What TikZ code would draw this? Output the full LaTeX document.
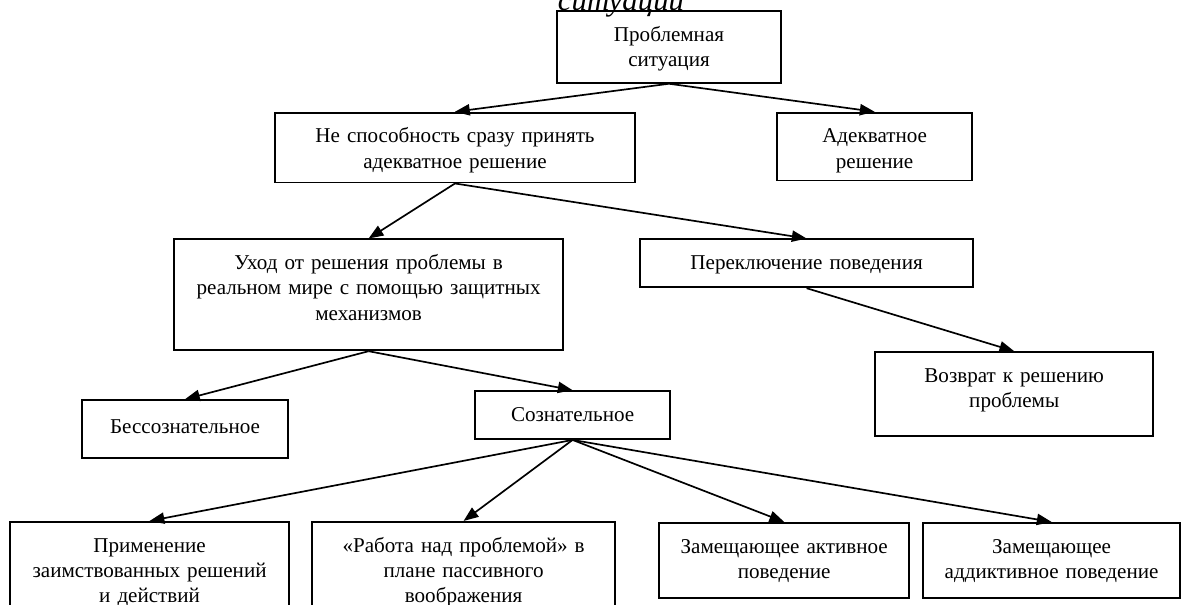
\documentclass[tikz,border=0pt]{standalone}
\usepackage{fontspec}
\setmainfont{Liberation Serif}
\usetikzlibrary{arrows.meta, positioning}

\begin{document}
\begin{tikzpicture}[
        % Стиль блоков схемы
        stagebox/.style={
                rectangle,
                draw=black,
                line width=1.3pt,
                inner sep=0pt,
                align=center,
                text height=21.5pt,
                font=\fontsize{15}{18}\selectfont
            },
        % Стрелки
        link/.style={
                -{Triangle[length=10.5pt,width=8pt]},
                line width=1.2pt
            }
    ]

    \useasboundingbox (0,0) rectangle (29.525,-15.125);

    % Обрезанная надпись сверху
    \node[anchor=base, font=\fontsize{22}{26}\selectfont\itshape] (cut) at (15.525,-0.25) {ситуации};

    % Верхний уровень
    \node[stagebox, anchor=north, text width=5.6cm, text depth=1.042cm] (prob) at (16.725,-0.25) {Проблемная\\ситуация};

    \node[stagebox, below=0.7cm of prob, xshift=-5.35cm, text width=9cm, text depth=0.992cm] (nesp) {
        Не способность сразу принять\\
        адекватное решение
    };

    \node[stagebox, below=0.7cm of prob, xshift=5.14cm, text width=4.875cm, text depth=0.942cm] (adekv) {
        Адекватное\\
        решение
    };

    % Второй уровень
    \node[stagebox, below=1.375cm of nesp, xshift=-2.16cm, text width=9.725cm, text depth=2.017cm] (uhod) {
        Уход от решения проблемы в\\
        реальном мире с помощью защитных\\
        механизмов
    };

    \node[stagebox, below=1.375cm of nesp, xshift=8.79cm, text width=8.325cm, text depth=0.442cm] (perekl) {
        Переключение поведения
    };

    \node[stagebox, below=1.575cm of perekl, xshift=5.19cm, text width=6.95cm, text depth=1.342cm] (vozvr) {
        Возврат к решению\\
        проблемы
    };

    % Третий уровень
    \node[stagebox, below=1.2cm of uhod, xshift=-4.59cm, text width=5.15cm, text height=24pt, text depth=0.6cm] (bessozn) {
        Бессознательное
    };

    \node[stagebox, below=0.975cm of uhod, xshift=5.1cm, text width=4.875cm, text depth=0.442cm] (sozn) {
        Сознательное
    };

    % Нижний уровень
    \node[stagebox, below=2.025cm of sozn, xshift=-10.575cm, text width=6.975cm, text depth=2.242cm] (prim) {
        Применение\\
        заимствованных решений\\
        и действий
    };

    \node[stagebox, below=2.025cm of sozn, xshift=-2.725cm, text width=7.575cm, text depth=2.242cm] (rabota) {
        «Работа над проблемой» в\\
        плане пассивного\\
        воображения
    };

    \node[stagebox, below=2.05cm of sozn, xshift=5.29cm, text width=6.25cm, text depth=1.117cm] (zamakt) {
        Замещающее активное\\
        поведение
    };

    \node[stagebox, below=2.05cm of sozn, xshift=11.975cm, text width=6.425cm, text depth=1.117cm] (zamadd) {
        Замещающее\\
        аддиктивное поведение
    };

    % Стрелки
    \draw[link] (prob.south) -- (nesp.north);
    \draw[link] (prob.south) -- (adekv.north);
    \draw[link] (nesp.south) -- (uhod.north);
    \draw[link] (nesp.south) -- (perekl.north);
    \draw[link] (perekl.south) -- (vozvr.north);
    \draw[link] (uhod.south) -- (bessozn.north);
    \draw[link] (uhod.south) -- (sozn.north);
    \draw[link] (sozn.south) -- (prim.north);
    \draw[link] (sozn.south) -- (rabota.north);
    \draw[link] (sozn.south) -- (zamakt.north);
    \draw[link] (sozn.south) -- (zamadd.north);

\end{tikzpicture}
\end{document}
